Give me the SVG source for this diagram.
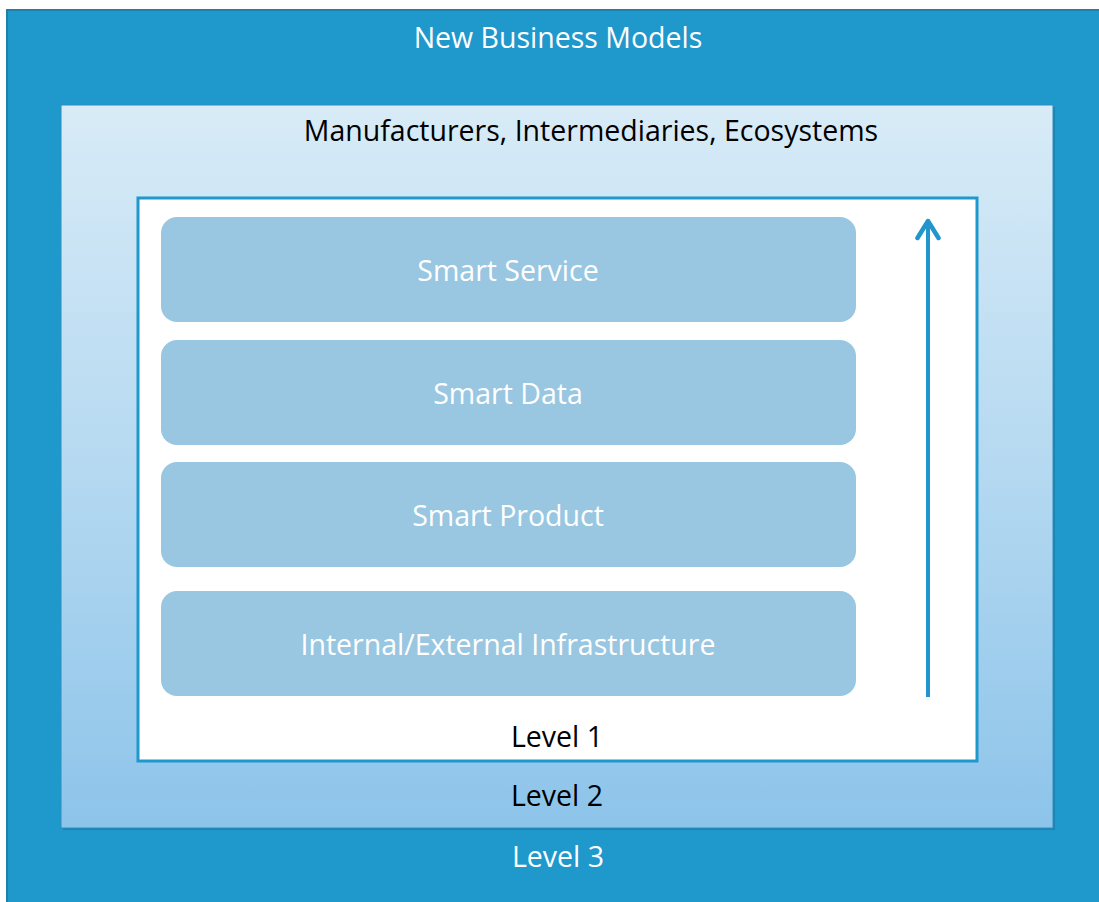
<svg xmlns="http://www.w3.org/2000/svg" width="1099" height="902" viewBox="0 0 1099 902">
  <defs>
    <linearGradient id="midFill" x1="0" y1="0" x2="0" y2="1">
      <stop offset="0" stop-color="#D8EBF7"/>
      <stop offset="0.5" stop-color="#B5D9F1"/>
      <stop offset="1" stop-color="#8DC4EA"/>
    </linearGradient>
    <marker id="head" viewBox="0 0 26 26" refX="22" refY="13" markerWidth="26" markerHeight="26" markerUnits="userSpaceOnUse" orient="auto">
      <path d="M5,2.5 L22,13 L5,23.5" fill="none" stroke="#2196CC" stroke-width="4.5" stroke-linecap="round" stroke-linejoin="round"/>
    </marker>
  </defs>
  <style>
    .lbl { font-family: "Open Sans", "Liberation Sans", sans-serif; font-size: 28.5px; text-anchor: middle; }
    .w { fill: #FFFFFF; }
    .k { fill: #000000; }
    .layer { fill: #99C7E1; }
  </style>
  <rect x="0" y="0" width="1099" height="902" fill="#FFFFFF"/>

  <!-- Level 3 -->
  <g id="level3">
    <rect x="7" y="10" width="1100" height="900" fill="#1F98CC" stroke="#1E80AB" stroke-width="2"/>
    <text class="lbl w" x="558" y="48">New Business Models</text>
    <text class="lbl w" x="558" y="867">Level 3</text>
  </g>

  <!-- Level 2 -->
  <g id="level2">
    <rect x="63" y="107" width="992" height="723" fill="#1A6F94" opacity="0.5"/>
    <rect x="61" y="105" width="992" height="723" fill="url(#midFill)" stroke="#2A8FBF" stroke-width="1"/>
    <text class="lbl k" x="591" y="141">Manufacturers, Intermediaries, Ecosystems</text>
    <text class="lbl k" x="557" y="806">Level 2</text>
  </g>

  <!-- Level 1 -->
  <g id="level1">
    <rect x="138" y="198" width="839" height="563" fill="#FFFFFF" stroke="#1F98CC" stroke-width="3"/>
    <text class="lbl k" x="557" y="747">Level 1</text>
  </g>

  <g id="smart-service">
    <rect class="layer" x="161" y="217" width="695" height="105" rx="16"/>
    <text class="lbl w" x="508" y="281">Smart Service</text>
  </g>
  <g id="smart-data">
    <rect class="layer" x="161" y="340" width="695" height="105" rx="16"/>
    <text class="lbl w" x="508" y="404">Smart Data</text>
  </g>
  <g id="smart-product">
    <rect class="layer" x="161" y="462" width="695" height="105" rx="16"/>
    <text class="lbl w" x="508" y="526">Smart Product</text>
  </g>
  <g id="infrastructure">
    <rect class="layer" x="161" y="591" width="695" height="105" rx="16"/>
    <text class="lbl w" x="508" y="655">Internal/External Infrastructure</text>
  </g>

  <g id="connectors">
    <line x1="928" y1="697" x2="928" y2="221" stroke="#2196CC" stroke-width="4" marker-end="url(#head)"/>
  </g>
</svg>
